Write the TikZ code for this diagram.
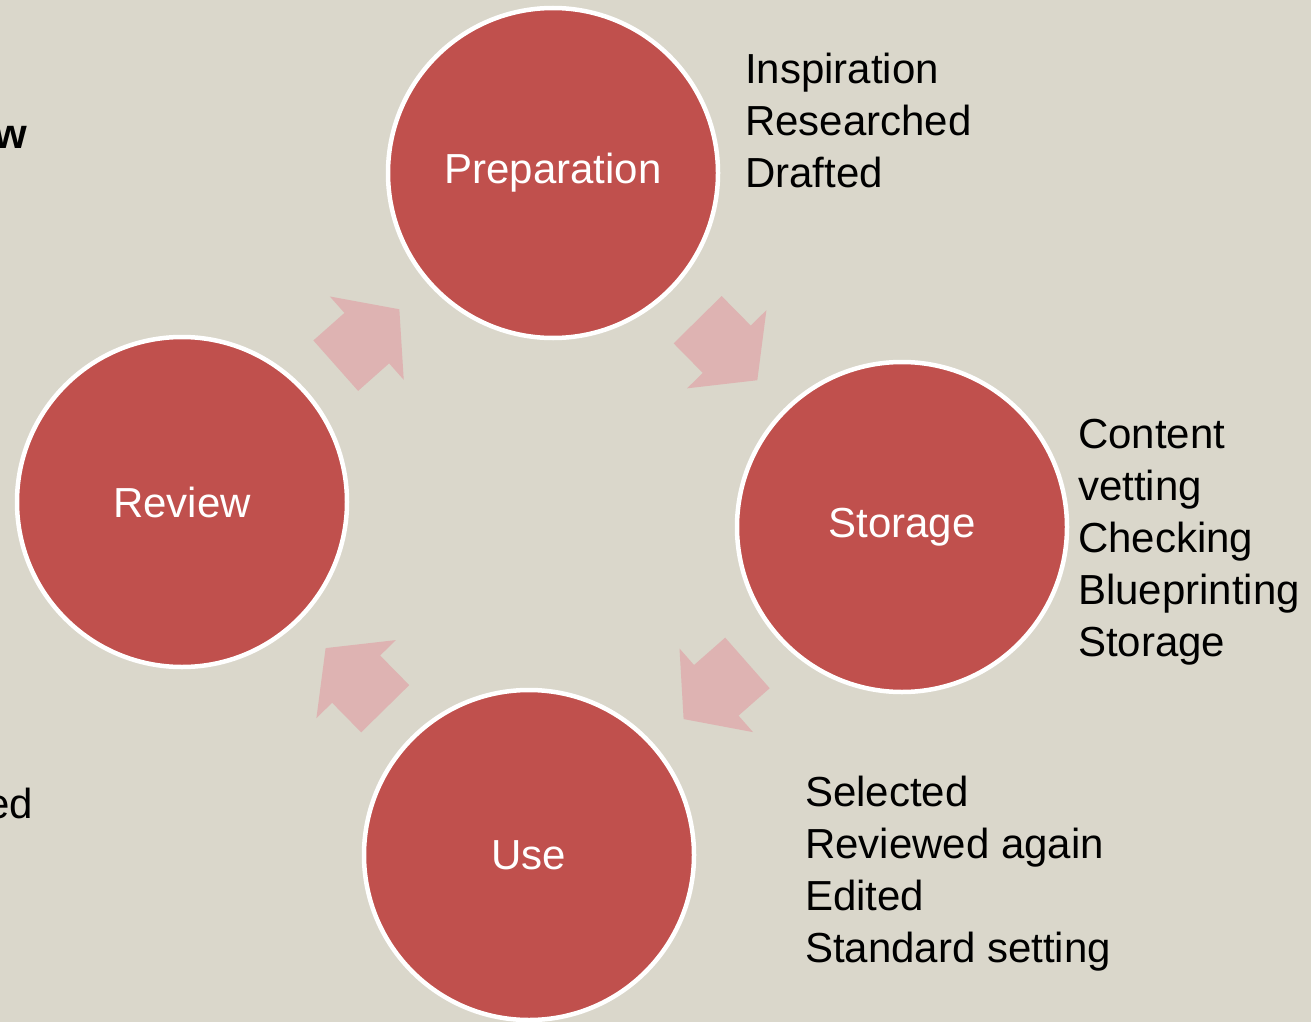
\documentclass[tikz,border=0pt]{standalone}
\usepackage{fontspec}
\setmainfont{Liberation Sans}
\usetikzlibrary{shapes.arrows, positioning, calc}
\definecolor{mybg}{RGB}{218,215,203}
\definecolor{myred}{RGB}{192,80,77}
\definecolor{mypink}{RGB}{222,179,178}
\tikzset{
  stage/.style={circle, draw=white, line width=4.5pt, fill=myred, minimum size=330pt, inner sep=0pt, text=white, font=\fontsize{42}{52}\selectfont},
  flow/.style={single arrow, fill=mypink, draw=none, minimum height=85pt, inner xsep=0pt, inner ysep=33.5pt, single arrow head extend=22pt, single arrow tip angle=104, sloped, allow upside down, anchor=tail, pos=0.414},
  notes/.style={anchor=base west, align=left, inner sep=0pt, font=\fontsize{42}{52}\selectfont}
}

\begin{document}
\begin{tikzpicture}[x=1pt, y=-1pt]
  % ═══════════════════════════════════════════════════════════════════════════════
  % BACKGROUND
  % ═══════════════════════════════════════════════════════════════════════════════
  \fill[mybg] (0,0) rectangle (1311,1022);
  \useasboundingbox (0,0) rectangle (1311,1022);

  % ═══════════════════════════════════════════════════════════════════════════════
  % CYCLE STAGES
  % ═══════════════════════════════════════════════════════════════════════════════
  \node[stage] (prep) at (553,173) {Preparation};
  \node[stage] (stor) at (902,527) {Storage};
  \node[stage] (use)  at (529,855) {Use};
  \node[stage] (rev)  at (182,502) {Review};

  % Block arrows between stages (tail placed just before the midpoint)
  \foreach \a/\b in {rev/prep, prep/stor, stor/use, use/rev}
    \path (\a.center) -- node[flow] (flow-\a) {} (\b.center);

  % ═══════════════════════════════════════════════════════════════════════════════
  % NOTES (anchored at the baseline of the last line)
  % ═══════════════════════════════════════════════════════════════════════════════
  \node[notes] (prepnotes) at (745,187) {Inspiration\\Researched\\Drafted};
  \node[notes] (stornotes) at (1078,656) {Content\\vetting\\Checking\\Blueprinting\\Storage};
  \node[notes] (usenotes)  at (805,962) {Selected\\Reviewed again\\Edited\\Standard setting};

  % Cut-off texts at the left edge
  \node[notes, anchor=base east, font=\fontsize{42}{52}\selectfont\bfseries] (leftw) at (27,148) {w};
  \node[notes, anchor=base east] (lefted) at (33,818) {ed};
\end{tikzpicture}
\end{document}
